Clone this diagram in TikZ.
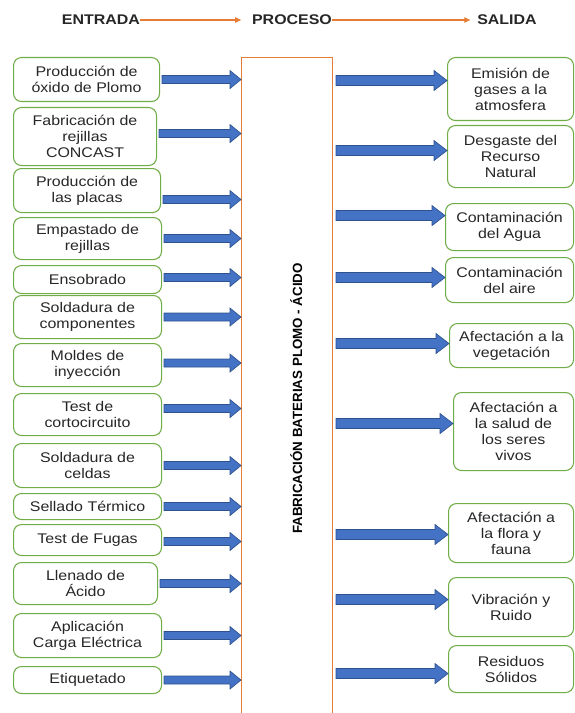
\documentclass[tikz,border=0pt]{standalone}
\usepackage{fontspec}
\setmainfont{Liberation Sans}[FakeStretch=1.14]
\newfontfamily\titlefont{Liberation Sans}
\usepackage{tikz}
\usetikzlibrary{arrows.meta, positioning, calc}
\definecolor{boxgreen}{RGB}{112,173,71}
\definecolor{arrowblue}{RGB}{68,114,196}
\definecolor{arrowedge}{RGB}{47,82,143}
\definecolor{procorange}{RGB}{230,125,55}
\definecolor{txtgray}{RGB}{38,38,38}
\tikzset{
    inbox/.style={rectangle, rounded corners=6pt, draw=boxgreen, line width=0.8pt, align=center, anchor=north west, minimum width=111pt, inner sep=2pt, font=\fontsize{10.5}{12}\selectfont, text=txtgray},
    outbox/.style={rectangle, rounded corners=6pt, draw=boxgreen, line width=0.8pt, align=center, anchor=north west, minimum width=93.75pt, inner sep=2pt, font=\fontsize{10.5}{12}\selectfont, text=txtgray},
    hdr/.style={inner sep=0pt, font=\fontsize{10.5}{12}\selectfont\bfseries, text=txtgray},
    hdrarrow/.style={draw=procorange, line width=0.8pt, -{Triangle[length=4.5pt, width=4pt]}},
    inarrow/.style={draw=arrowedge, fill=arrowblue, line width=0.5pt,
        to path={let \p1=(\tikztostart), \p2=(\tikztotarget) in
            (\x1+1.5pt,\y1+3pt) -- (\x2-8.25pt,\y1+3pt) -- (\x2-8.25pt,\y1+6.75pt) -- (\x2,\y1)
            -- (\x2-8.25pt,\y1-6.75pt) -- (\x2-8.25pt,\y1-3pt) -- (\x1+1.5pt,\y1-3pt) -- cycle}},
    outarrow/.style={draw=arrowedge, fill=arrowblue, line width=0.5pt,
        to path={let \p1=(\tikztostart), \p2=(\tikztotarget) in
            (\x1+2.25pt,\y2+3.75pt) -- (\x2-9.75pt,\y2+3.75pt) -- (\x2-9.75pt,\y2+7.5pt) -- (\x2,\y2)
            -- (\x2-9.75pt,\y2-7.5pt) -- (\x2-9.75pt,\y2-3.75pt) -- (\x1+2.25pt,\y2-3.75pt) -- cycle}}
}
\begin{document}
\begin{tikzpicture}[x=0.75pt, y=-0.75pt,
    procbox/.style={rectangle, draw=procorange, line width=0.8pt, anchor=north west, minimum width=68.25pt, minimum height=511.5pt},
    proctitle/.style={font=\titlefont\fontsize{10}{12}\selectfont\bfseries, text=black, inner sep=0pt}
]
    \useasboundingbox (0,0) rectangle (574,713);

    % header
    \node[hdr] (hin) at (101,20) {ENTRADA};
    \node[hdr] (hproc) at (292,20) {PROCESO};
    \node[hdr] (hout) at (507,20) {SALIDA};
    \draw[hdrarrow, shorten >=8pt] (hin) -- (hproc);
    \draw[hdrarrow, shorten >=5pt] (hproc) -- (hout);

    % process
    \node[procbox] (proc) at (241,57) {};
    \node[proctitle, rotate=90] (ptitle) at ([xshift=7pt]proc.center) {FABRICACIÓN BATERIAS PLOMO - ÁCIDO};

    % inputs
    \node[inbox, minimum width=109.5pt, minimum height=33pt] (in1) at (13,57) {Producción de\\óxido de Plomo};
    \node[inbox, minimum width=107.25pt, minimum height=43.5pt] (in2) at (13,107) {Fabricación de\\rejillas\\CONCAST};
    \node[inbox, minimum width=110.25pt, minimum height=33pt] (in3) at (13,168) {Producción de\\las placas};
    \node[inbox, minimum height=31.5pt] (in4) at (13,217) {Empastado de\\rejillas};
    \node[inbox, minimum height=21pt] (in5) at (13,265) {Ensobrado};
    \node[inbox, minimum height=32.25pt] (in6) at (13,295) {Soldadura de\\componentes};
    \node[inbox, minimum height=32.25pt] (in7) at (13,343) {Moldes de\\inyección};
    \node[inbox, minimum height=31.5pt] (in8) at (13,393) {Test de\\cortocircuito};
    \node[inbox, minimum height=33pt] (in9) at (13,443) {Soldadura de\\celdas};
    \node[inbox, minimum height=19.5pt] (in10) at (13,493) {Sellado Térmico};
    \node[inbox, minimum height=23.25pt] (in11) at (13,524) {Test de Fugas};
    \node[inbox, minimum width=108pt, minimum height=31.5pt] (in12) at (13,562) {Llenado de\\Ácido};
    \node[inbox, minimum height=33pt] (in13) at (13,613) {Aplicación\\Carga Eléctrica};
    \node[inbox, minimum height=20.25pt] (in14) at (13,666) {Etiquetado};

    % outputs
    \node[outbox, minimum width=94.5pt, minimum height=47.25pt] (out1) at (447,57) {Emisión de\\gases a la\\atmosfera};
    \node[outbox, minimum width=94.5pt, minimum height=46.5pt] (out2) at (447,125) {Desgaste del\\Recurso\\Natural};
    \node[outbox, minimum width=96pt, minimum height=35.25pt] (out3) at (445,203) {Contaminación\\del Agua};
    \node[outbox, minimum width=96pt, minimum height=33.75pt] (out4) at (445,257) {Contaminación\\del aire};
    \node[outbox, minimum width=93pt, minimum height=33pt] (out5) at (449,323) {Afectación a la\\vegetación};
    \node[outbox, minimum width=90pt, minimum height=58.5pt] (out6) at (453,392) {Afectación a\\la salud de\\los seres\\vivos};
    \node[outbox, minimum height=44.25pt] (out7) at (448,503) {Afectación a\\la flora y\\fauna};
    \node[outbox, minimum height=44.25pt] (out8) at (448,577) {Vibración y\\Ruido};
    \node[outbox, minimum height=35.25pt] (out9) at (448,645) {Residuos\\Sólidos};

    % input arrows
    \draw[inarrow] (in1.east) to (proc.west);
    \draw[inarrow] ([yshift=2.25pt]in2.east) to (proc.west);
    \draw[inarrow] ([yshift=-6.75pt]in3.east) to (proc.west);
    \draw[inarrow] (in4.east) to (proc.west);
    \draw[inarrow] ([yshift=1.5pt]in5.east) to (proc.west);
    \draw[inarrow] (in6.east) to (proc.west);
    \draw[inarrow] ([yshift=1.5pt]in7.east) to (proc.west);
    \draw[inarrow] ([yshift=4.5pt]in8.east) to (proc.west);
    \draw[inarrow] (in9.east) to (proc.west);
    \draw[inarrow] (in10.east) to (proc.west);
    \draw[inarrow] ([yshift=-1.1pt]in11.east) to (proc.west);
    \draw[inarrow] (in12.east) to (proc.west);
    \draw[inarrow] (in13.east) to (proc.west);
    \draw[inarrow] (in14.east) to (proc.west);

    % output arrows
    \draw[outarrow] (proc.east) to ([yshift=6.4pt]out1.west);
    \draw[outarrow] (proc.east) to ([yshift=4.5pt]out2.west);
    \draw[outarrow] (proc.east) to ([yshift=8.6pt]out3.west);
    \draw[outarrow] (proc.east) to ([yshift=1.9pt]out4.west);
    \draw[outarrow] (proc.east) to ([yshift=1.5pt]out5.west);
    \draw[outarrow] (proc.east) to ([yshift=6pt]out6.west);
    \draw[outarrow] (proc.east) to ([yshift=-1.1pt]out7.west);
    \draw[outarrow] (proc.east) to ([yshift=5.6pt]out8.west);
    \draw[outarrow] (proc.east) to ([yshift=-3.4pt]out9.west);
\end{tikzpicture}
\end{document}
